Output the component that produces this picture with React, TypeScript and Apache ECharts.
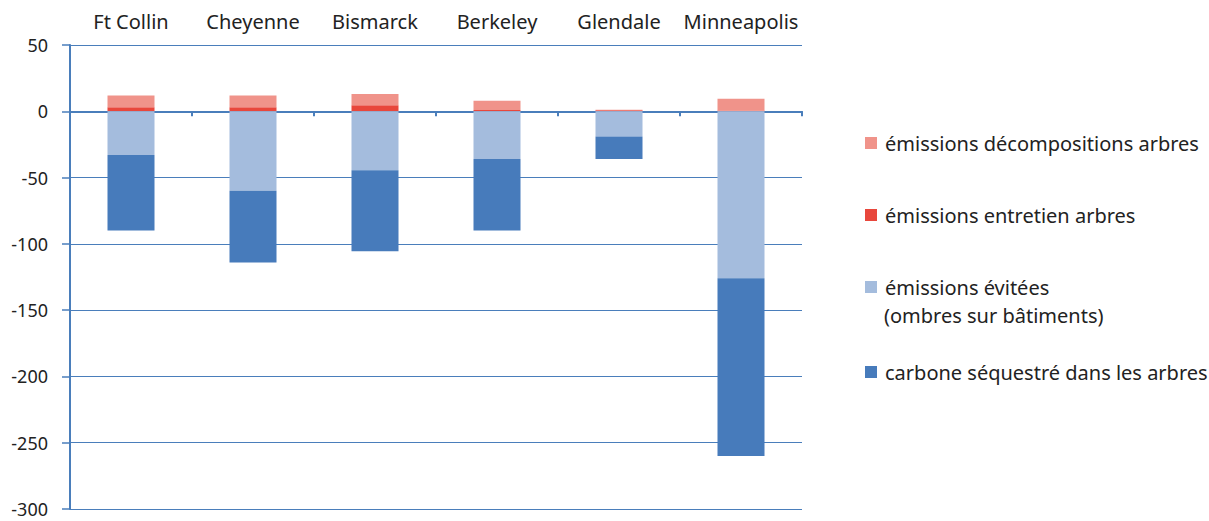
import React, { useEffect, useRef } from "react";
import * as echarts from "echarts";

const cities = ["Ft Collin", "Cheyenne", "Bismarck", "Berkeley", "Glendale", "Minneapolis"];
const entretien = [3, 3, 4.5, 1, 0.8, 0.5];
const decomposition = [9, 9, 8.5, 7, 0.4, 9];
const evitees = [-33, -60, -44.5, -36, -19, -126];
const sequestre = [-57, -54, -61, -54, -17, -134];
const yTicks = { min: -300, max: 50, interval: 50 };

const NAME_DECOMP = "émissions décompositions arbres";
const NAME_ENTRETIEN = "émissions entretien arbres";
const NAME_EVITEES = "émissions évitées (ombres sur bâtiments)";
const NAME_SEQ = "carbone séquestré dans les arbres";

const FONT = "Noto Sans";
const AXIS_BLUE = "#4a7ebb";

export default function App() {
  const ref = useRef<HTMLDivElement>(null);
  useEffect(() => {
    const chart = echarts.init(ref.current!, null, { renderer: "svg" });
    const legendBase = (name: string, top: number, color: string, fmt?: string) => ({
      data: [{ name, icon: "rect", itemStyle: { color } }],
      left: 860,
      top,
      orient: "vertical",
      itemWidth: 12,
      itemHeight: 12,
      selectedMode: false,
      formatter: fmt ? () => fmt : undefined,
      textStyle: { fontFamily: FONT, fontSize: 20, color: "#222", padding: [0, 0, 0, 3] },
    });
    chart.setOption({
      animation: false,
      textStyle: { fontFamily: FONT },
      grid: { left: 70, right: 407, top: 45, bottom: 12 },
      legend: [
        legendBase(NAME_DECOMP, 128, "#f0938a"),
        legendBase(NAME_ENTRETIEN, 200, "#e8473c"),
        legendBase(NAME_EVITEES, 272, "#a4bcdd", "émissions évitées"),
        legendBase(NAME_SEQ, 357, "#477bbb"),
      ],
      graphic: [
        {
          type: "text",
          left: 884,
          top: 305,
          style: { text: "(ombres sur bâtiments)", fontFamily: FONT, fontSize: 20, fill: "#222" },
        },
      ],
      xAxis: [
        {
          type: "category",
          data: cities,
          position: "top",
          axisLine: { show: false, onZero: false },
          axisTick: { show: false },
          axisLabel: { fontSize: 20, color: "#222", margin: 14, fontFamily: FONT, interval: 0 },
          splitLine: { show: false },
        },
        {
          type: "category",
          data: cities,
          position: "bottom",
          axisLine: { show: true, onZero: true, lineStyle: { color: AXIS_BLUE, width: 2 } },
          axisTick: { show: true, length: 5, lineStyle: { color: AXIS_BLUE, width: 2 } },
          axisLabel: { show: false },
          splitLine: { show: false },
        },
      ],
      yAxis: {
        type: "value",
        min: yTicks.min,
        max: yTicks.max,
        interval: yTicks.interval,
        axisLine: { show: true, lineStyle: { color: AXIS_BLUE, width: 2 } },
        axisTick: { show: true, length: 8, lineStyle: { color: AXIS_BLUE, width: 1.5 } },
        axisLabel: { fontSize: 18, color: "#222", margin: 22, fontFamily: FONT },
        splitLine: { show: true, lineStyle: { color: AXIS_BLUE, width: 1 } },
      },
      series: [
        { name: NAME_ENTRETIEN, type: "bar", stack: "s", data: entretien, barWidth: 47, itemStyle: { color: "#e8473c" } },
        { name: NAME_DECOMP, type: "bar", stack: "s", data: decomposition, barWidth: 47, itemStyle: { color: "#f0938a" } },
        { name: NAME_EVITEES, type: "bar", stack: "s", data: evitees, barWidth: 47, itemStyle: { color: "#a4bcdd" } },
        { name: NAME_SEQ, type: "bar", stack: "s", data: sequestre, barWidth: 47, itemStyle: { color: "#477bbb" } },
      ],
    });
    return () => chart.dispose();
  }, []);
  return (
    <div
      ref={ref}
      style={{ position: "fixed", left: 0, top: 0, width: 1209, height: 521, background: "#fff" }}
    />
  );
}
